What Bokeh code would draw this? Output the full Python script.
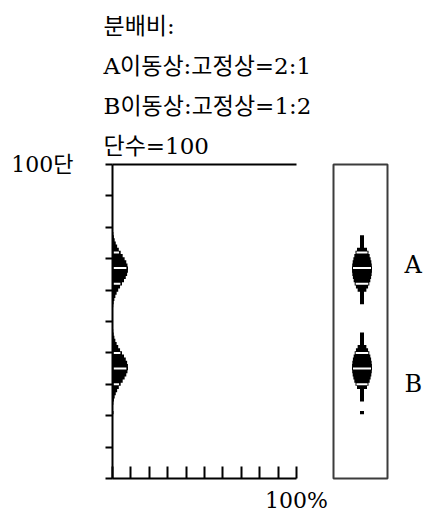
import math
from bokeh.plotting import figure
from bokeh.models import Range1d, LinearAxis, FixedTicker, Title
from bokeh.layouts import row
from bokeh.embed import file_html
from bokeh.resources import INLINE

# ---- data (percent of solute in each stage after 100 transfers) ----
a_steps = [54, 55, 56, 57, 58, 59, 60, 61, 62, 63, 64, 65, 66, 67, 68, 69, 70, 71, 72, 73, 74, 75, 76, 77, 78, 79]
a_vals = [0.23, 0.40, 0.65, 1.03, 1.56, 2.25, 3.11, 4.11, 5.18, 6.25, 7.21, 7.95, 8.38, 8.44, 8.13, 7.49,
          6.59, 5.54, 4.46, 3.43, 2.52, 1.78, 1.19, 0.77, 0.47, 0.28]
b_steps = [21, 22, 23, 24, 25, 26, 27, 28, 29, 30, 31, 32, 33, 34, 35, 36, 37, 38, 39, 40, 41, 42, 43, 44, 45, 46, 47, 48]
b_vals = [0.55, 0.15, 0.28, 0.47, 0.77, 1.19, 1.78, 2.52, 3.43, 4.46, 5.54, 6.59, 7.49, 8.13, 8.44, 8.38,
          7.95, 7.21, 6.25, 5.18, 4.11, 3.11, 2.25, 1.56, 1.03, 0.65, 0.40, 0.23]
a_marks = [62, 67, 72]
b_marks = [30, 35, 40]
y_ticks = [0, 10, 20, 30, 40, 50, 60, 70, 80, 90, 100]
x_ticks = [0, 10, 20, 30, 40, 50, 60, 70, 80, 90, 100]
header_lines = ["분배비:", "A이동상:고정상=2:1", "B이동상:고정상=1:2", "단수=100"]
y_top_label = "100단"
x_end_label = "100%"
band_labels = ["A", "B"]
band_label_pos = [68, 30]

FONT = "DejaVu Serif, Noto Sans CJK KR"
FS = "22px"
FS_HEAD = "23px"


def step_outline(steps, left, right):
    xs, ys = [], []
    for s, r in zip(steps, right):
        xs += [r, r]
        ys += [s - 0.5, s + 0.5]
    for s, l in zip(reversed(steps), reversed(left)):
        xs += [l, l]
        ys += [s + 0.5, s - 0.5]
    return xs, ys


# ---------------- left chart ----------------
pL = figure(width=330, height=515, output_backend="svg", toolbar_location=None, title=None,
            x_range=Range1d(0, 100), y_range=Range1d(0, 100),
            x_axis_location=None, y_axis_location=None,
            min_border_left=112, min_border_right=34, min_border_top=164, min_border_bottom=32)
pL.xgrid.visible = False
pL.ygrid.visible = False
pL.outline_line_color = None
pL.background_fill_color = "white"
pL.border_fill_color = "white"

yax = LinearAxis(ticker=FixedTicker(ticks=y_ticks), major_tick_out=7, major_tick_in=0,
                 axis_line_width=2, major_tick_line_width=2, minor_tick_line_color=None,
                 major_label_overrides={t: (y_top_label if t == 100 else "") for t in y_ticks},
                 major_label_standoff=32, major_label_text_font=FONT, major_label_text_font_size=FS,
                 major_label_text_color="black")
pL.add_layout(yax, "left")
xax = LinearAxis(ticker=FixedTicker(ticks=x_ticks), major_tick_out=0, major_tick_in=12,
                 axis_line_width=2, major_tick_line_width=2, minor_tick_line_color=None,
                 major_label_overrides={t: (x_end_label if t == 100 else "") for t in x_ticks},
                 major_label_standoff=9, major_label_text_font=FONT, major_label_text_font_size=FS,
                 major_label_text_color="black")
pL.add_layout(xax, "below")
top = LinearAxis(ticker=FixedTicker(ticks=[]), major_tick_out=0, major_tick_in=0,
                 axis_line_width=2, minor_tick_line_color=None, major_label_standoff=0)
pL.add_layout(top, "above")

for line in reversed(header_lines):
    pL.add_layout(Title(text=line, align="left", offset=-9, standoff=12, text_font=FONT,
                        text_font_size=FS_HEAD, text_font_style="normal", text_color="black"), "above")

for steps, vals, marks in [(a_steps, a_vals, a_marks), (b_steps, b_vals, b_marks)]:
    xs, ys = step_outline(steps, [0] * len(vals), vals)
    pL.patch(xs, ys, fill_color="black", line_color=None)
    lookup = dict(zip(steps, vals))
    pL.segment(x0=[0.6] * len(marks), x1=[lookup[m] - 0.9 for m in marks], y0=marks, y1=marks,
               line_color="white", line_width=2)

# ---------------- right column panel ----------------
pR = figure(width=97, height=515, output_backend="svg", toolbar_location=None, title=None,
            x_range=Range1d(-28.5, 25.5), y_range=Range1d(0, 100),
            x_axis_location=None, y_axis_location=None,
            min_border_left=3, min_border_right=40, min_border_top=164, min_border_bottom=32)
pR.xgrid.visible = False
pR.ygrid.visible = False
pR.outline_line_color = "#3c3c3c"
pR.outline_line_width = 2
pR.background_fill_color = "white"
pR.border_fill_color = "white"

rax = LinearAxis(ticker=FixedTicker(ticks=band_label_pos), axis_line_color=None,
                 major_tick_line_color=None, minor_tick_line_color=None,
                 major_label_overrides={p: t for p, t in zip(band_label_pos, band_labels)},
                 major_label_standoff=11, major_label_text_font=FONT, major_label_text_font_size="24px",
                 major_label_text_color="black")
pR.add_layout(rax, "right")


def half_width(c, cmax):
    if c < 0.5:
        return 0.0
    if c < 2.6:
        return 2.0
    return 2.0 + 8.0 * math.sqrt((c - 2.6) / (cmax - 2.6))


for steps, vals, marks in [(a_steps, a_vals, a_marks), (b_steps, b_vals, b_marks)]:
    cmax = max(vals)
    hw = [half_width(c, cmax) for c in vals]
    xs, ys = step_outline(steps, [-h for h in hw], hw)
    pR.patch(xs, ys, fill_color="black", line_color=None)
    lookup = dict(zip(steps, hw))
    pR.segment(x0=[-lookup[m] + 1 for m in marks], x1=[lookup[m] - 1 for m in marks], y0=marks, y1=marks,
               line_color="white", line_width=2)

layout = row(pL, pR, spacing=0)
open("out.html", "w").write(file_html(layout, INLINE))
